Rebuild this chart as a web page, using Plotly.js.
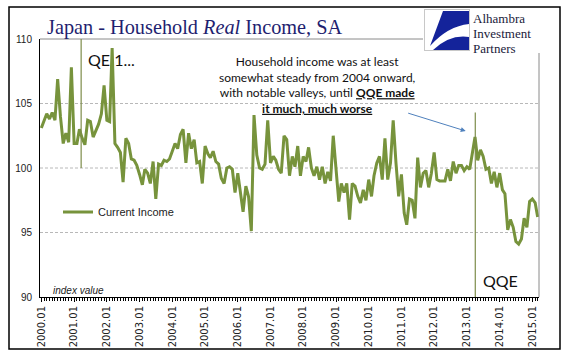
<!DOCTYPE html>
<html>
<head>
<meta charset="utf-8">
<script src="https://cdn.plot.ly/plotly-3.0.1.min.js"></script>
<style>html,body{margin:0;padding:0;background:#fff;}#chart{width:570px;height:361px;}</style>
</head>
<body>
<div id="chart"></div>
<script>
// Monthly series, 2000.01 .. 2015.03 (index value)
const startYear = 2000;
const currentIncome = [
 103.1,103.6,104.2,103.8,104.3,103.7,106.9,104.0,101.9,102.7,102.0,107.8,
 101.9,101.9,103.0,102.3,101.8,103.7,103.6,102.4,102.9,103.4,104.2,106.4,
 103.7,103.6,109.3,101.9,101.6,101.2,98.9,102.3,101.9,100.7,100.6,100.2,
 99.5,98.7,99.9,99.6,98.8,100.5,97.6,100.3,100.2,100.6,100.5,100.7,
 101.3,101.9,101.5,102.6,103.0,100.4,102.7,101.5,102.2,100.4,100.5,98.8,
 101.7,101.1,100.8,101.3,100.5,100.3,99.2,98.8,100.0,100.1,99.9,98.1,
 99.6,97.9,96.6,98.6,97.8,95.1,104.1,101.0,100.0,99.9,100.3,103.7,
 100.4,100.9,100.6,99.9,99.6,102.5,102.2,99.4,100.9,100.1,101.7,99.4,
 100.9,100.5,101.6,100.0,99.4,100.1,99.1,100.1,98.8,99.7,99.0,102.5,
 99.6,97.4,98.8,98.1,98.8,96.0,98.8,98.6,97.8,97.3,98.3,97.5,
 99.1,97.8,99.4,100.4,100.9,99.1,102.3,99.1,100.4,103.7,100.4,97.8,
 99.5,96.5,95.6,97.6,97.5,96.1,100.8,98.5,99.6,99.8,98.5,99.6,
 101.2,99.1,99.0,99.0,99.0,99.9,99.0,100.5,99.6,100.2,100.2,99.8,
 100.1,99.9,101.0,102.4,100.6,101.4,100.9,99.9,100.0,98.8,99.7,98.5,
 99.6,98.3,98.0,95.2,96.0,95.4,94.3,94.1,94.5,96.1,95.4,97.4,
 97.6,97.3,96.2
];
const seriesName = "Current Income";
const yTicks = [90, 95, 100, 105, 110];
const gridValues = [95, 100, 105];
const qe1Date = "2001-03-20";
const qqeDate = "2013-04-04";
const logoLines = ["Alhambra", "Investment", "Partners"];

// month categories
const months = currentIncome.map((v, i) => {
  const y = startYear + Math.floor(i / 12);
  const m = (i % 12) + 1;
  return y + "-" + (m < 10 ? "0" + m : m) + "-01";
});

const W = 570, H = 361, L = 40, R = 31, T = 39, B = 64;
const PW = W - L - R, PH = H - T - B;
const px = p => (p - L) / PW;
const py = p => (H - B - p) / PH;

const trace = {
  x: months, y: currentIncome, type: "scatter", mode: "lines",
  name: seriesName, line: {color: "#77933C", width: 3}
};

const shapes = [];
gridValues.forEach(v => shapes.push({
  type: "line", xref: "paper", yref: "y", x0: 0, x1: 1, y0: v, y1: v,
  line: {color: "#b8b8b8", width: 1, dash: "3px,2px"}, layer: "below"
}));
shapes.push({type: "line", xref: "paper", yref: "paper", x0: 0, x1: px(423), y0: 1, y1: 1,
  line: {color: "#8a8a8a", width: 1}});
shapes.push({type: "line", xref: "paper", yref: "paper", x0: 1, x1: 1, y0: 0, y1: py(53),
  line: {color: "#8a8a8a", width: 1}});
shapes.push({type: "line", xref: "x", yref: "y", x0: qe1Date, x1: qe1Date, y0: 100, y1: 110,
  line: {color: "#7d8c4a", width: 1.2}});
shapes.push({type: "line", xref: "x", yref: "y", x0: qqeDate, x1: qqeDate, y0: 90, y1: 104.3,
  line: {color: "#7d8c4a", width: 1.2}});
shapes.push({type: "rect", xref: "paper", yref: "paper", x0: px(9), x1: px(560), y0: py(349), y1: py(7),
  line: {color: "#000", width: 1.5}, fillcolor: "rgba(0,0,0,0)"});

const logoSvg = '<svg xmlns="http://www.w3.org/2000/svg" width="46" height="42" viewBox="0 0 46 42">' +
  '<rect x="0.5" y="0.5" width="45" height="41" fill="#fff" stroke="#c8c8c8"/>' +
  '<path d="M19,2 L45,2 L45,15 Q24,17 6,37 Z" fill="#14239a"/>' +
  '<path d="M9,41 Q26,25 45,28 L45,41 Z" fill="#14239a"/></svg>';

const serif = "Liberation Serif, Times New Roman, serif";
const sans = "Liberation Sans, Arial, sans-serif";
const body = "Lato, Open Sans, sans-serif";

const annotations = [
  {xref: "paper", yref: "paper", x: px(86), y: py(59), xanchor: "left", yanchor: "middle",
   text: "QE 1...", showarrow: false, font: {family: body, size: 16, color: "#111"}},
  {xref: "paper", yref: "paper", x: px(481), y: py(280), xanchor: "left", yanchor: "middle",
   text: "QQE", showarrow: false, font: {family: body, size: 16, color: "#111"}},
  {xref: "paper", yref: "paper", x: px(317), y: py(84.5), xanchor: "center", yanchor: "middle", align: "center",
   text: "Household income was at least<br>somewhat steady from 2004 onward,<br>with notable valleys, until <b><u>QQE made</u></b><br><b><u>it much, much worse</u></b>",
   showarrow: false, font: {family: body, size: 12, color: "#111"}},
  {xref: "paper", yref: "paper", x: px(465.7), y: py(131), ax: -59, ay: -18.3,
   axref: "pixel", ayref: "pixel", text: "", showarrow: true, arrowhead: 2, arrowsize: 1,
   arrowwidth: 1, arrowcolor: "#4f81bd"},
  {xref: "paper", yref: "paper", x: px(51), y: py(290), xanchor: "left", yanchor: "middle",
   text: "<i>index value</i>", showarrow: false, font: {family: sans, size: 10, color: "#222"}}
];
[18.5, 33.5, 48.5].forEach((yp, i) => annotations.push({
  xref: "paper", yref: "paper", x: px(472), y: py(yp), xanchor: "left", yanchor: "middle",
  text: logoLines[i], showarrow: false, borderpad: 0,
  font: {family: serif, size: 13, color: "#1a1a3a"}
}));

const layout = {
  width: W, height: H,
  margin: {l: L, r: R, t: T, b: B, pad: 0},
  paper_bgcolor: "#fff", plot_bgcolor: "#fff",
  title: {text: "Japan - Household <i>Real</i> Income, SA", x: 47 / W, xref: "container", xanchor: "left",
          y: 1 - 27 / H, yref: "container", yanchor: "middle",
          font: {family: serif, size: 20.3, color: "#1f1f70"}},
  showlegend: true,
  legend: {x: px(58), y: py(212), xanchor: "left", yanchor: "middle", bgcolor: "rgba(0,0,0,0)",
           font: {family: sans, size: 11, color: "#222"}},
  xaxis: {type: "date", range: ["1999-12-17", "2015-03-16"], tick0: "2000-01-01", dtick: "M12",
          tickformat: "%Y.%m", tickangle: -90, ticks: "outside", ticklen: 4, tickcolor: "#000",
          minor: {dtick: "M1", ticks: "outside", ticklen: 3, tickcolor: "#000", showgrid: false},
          showline: true, linecolor: "#000", linewidth: 1, showgrid: false, zeroline: false,
          tickfont: {family: "DejaVu Sans, sans-serif", size: 10, color: "#222"}},
  yaxis: {range: [90, 110], tickvals: yTicks, ticktext: yTicks.map(String), ticks: "outside",
          ticklen: 5, tickcolor: "rgba(0,0,0,0)", showline: true, linecolor: "#000", linewidth: 1,
          showgrid: false, zeroline: false,
          tickfont: {family: sans, size: 10, color: "#222"}},
  shapes: shapes,
  annotations: annotations,
  images: [{source: "data:image/svg+xml;charset=utf-8," + encodeURIComponent(logoSvg),
            xref: "paper", yref: "paper", x: px(424), y: py(9), sizex: 46 / PW, sizey: 42 / PH,
            xanchor: "left", yanchor: "top", sizing: "stretch", layer: "above"}]
};

Plotly.newPlot("chart", [trace], layout, {displayModeBar: false, staticPlot: true});
</script>
</body>
</html>
